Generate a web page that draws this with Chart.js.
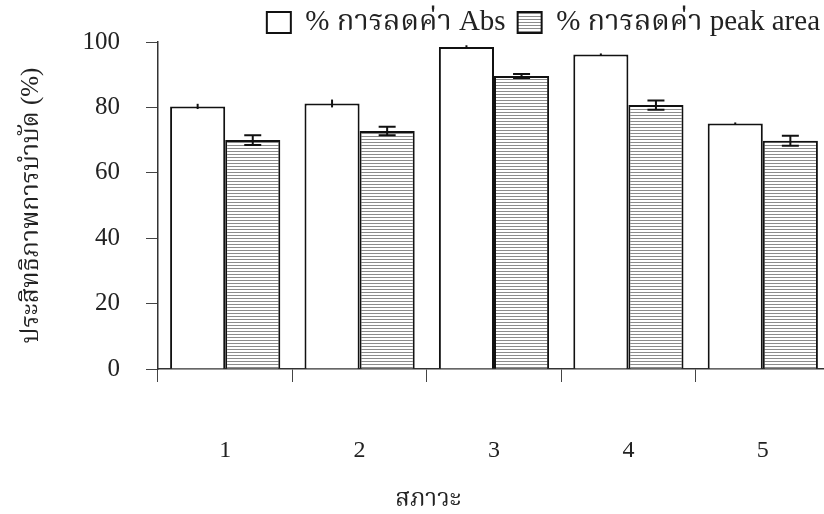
<!DOCTYPE html>
<html>
<head>
<meta charset="utf-8">
<script src="https://cdn.jsdelivr.net/npm/chart.js@4/dist/chart.umd.min.js"></script>
<style>
html,body{margin:0;padding:0;background:#fff;}
#wrap{width:824px;height:514px;position:relative;}
</style>
</head>
<body>
<div id="wrap"><canvas id="c" width="824" height="514"></canvas></div>
<script>
const categories = ['1', '2', '3', '4', '5'];
const absValues = [80.3, 81.2, 98.5, 96.2, 75.1];
const absErrors = [0.8, 1.2, 0.5, 0.3, 0.3];
const peakValues = [70.0, 72.8, 89.6, 80.7, 69.8];
const peakErrors = [1.5, 1.3, 0.6, 1.4, 1.5];
const yTicks = [0, 20, 40, 60, 80, 100];
const seriesNames = ['% การลดค่า Abs', '% การลดค่า peak area'];
const xTitle = 'สภาวะ';
const yTitle = 'ประสิทธิภาพการบำบัด (%)';

const FONT = "'Liberation Serif', 'Times New Roman', 'Noto Serif Thai', 'Noto Sans Thai', 'Norasi', 'Garuda', serif";

function hatch() {
  const p = document.createElement('canvas');
  p.width = 6; p.height = 3;
  const g = p.getContext('2d');
  g.fillStyle = '#ffffff';
  g.fillRect(0, 0, 6, 3);
  g.fillStyle = '#8c8c8c';
  g.fillRect(0, 1, 6, 1);
  return g.createPattern(p, 'repeat');
}
const hatchPattern = hatch();

const errorsByDataset = [absErrors, peakErrors];
const capWidths = [0, 17];

const errorBarPlugin = {
  id: 'errorBars',
  afterDatasetsDraw(chart) {
    const ctx = chart.ctx;
    const y = chart.scales.y;
    chart.data.datasets.forEach((ds, di) => {
      const meta = chart.getDatasetMeta(di);
      const errs = errorsByDataset[di];
      meta.data.forEach((bar, i) => {
        const v = ds.data[i];
        const e = errs[i];
        const yTop = y.getPixelForValue(v + e);
        const yBot = y.getPixelForValue(v - e);
        const x = bar.x;
        const cw = capWidths[di] / 2;
        ctx.save();
        ctx.strokeStyle = '#111';
        ctx.lineWidth = 2;
        ctx.beginPath();
        ctx.moveTo(x, yTop); ctx.lineTo(x, yBot);
        if (cw > 0) {
          ctx.moveTo(x - cw, yTop); ctx.lineTo(x + cw, yTop);
          ctx.moveTo(x - cw, yBot); ctx.lineTo(x + cw, yBot);
        }
        ctx.stroke();
        ctx.restore();
      });
    });
  }
};

// Layout nudges so the legend overlaps the top of the plot as in the reference,
// and the category axis runs to the right edge of the picture.
const layoutPlugin = {
  id: 'layoutTweaks',
  afterLayout(chart) {
    const ca = chart.chartArea;
    const lg = chart.legend;
    if (lg) {
      const h = lg.bottom - lg.top;
      lg.top = -4;
      lg.bottom = lg.top + h;
      lg.left += 8;
      lg.right += 8;
    }
    const ys = chart.scales.y;
    ys.top = 42;
    ys.height = ys.bottom - ys.top;
    ca.top = 42;
    ca.height = ca.bottom - ca.top;
    ys.configure();
    ys._gridLineItems = null;
    ys._labelItems = null;

    const xs = chart.scales.x;
    xs.right = 830;
    xs.width = xs.right - xs.left;
    ca.right = 830;
    ca.width = ca.right - ca.left;
    xs.configure();
    xs._gridLineItems = null;
    xs._labelItems = null;
  },
  afterDraw(chart) {
    const ctx = chart.ctx;
    const ca = chart.chartArea;
    ctx.save();
    ctx.fillStyle = '#222';
    ctx.font = "24px " + FONT;
    ctx.textAlign = 'center';
    ctx.textBaseline = 'middle';
    ctx.fillText(xTitle, ca.left + (ca.right - ca.left) * 0.402, 500);
    ctx.restore();
  }
};

new Chart(document.getElementById('c'), {
  type: 'bar',
  data: {
    labels: categories,
    datasets: [
      {
        label: seriesNames[0],
        data: absValues,
        backgroundColor: '#ffffff',
        borderColor: '#111',
        borderWidth: 2,
        categoryPercentage: 0.82,
        barPercentage: 1.0
      },
      {
        label: seriesNames[1],
        data: peakValues,
        backgroundColor: hatchPattern,
        borderColor: '#111',
        borderWidth: 2,
        categoryPercentage: 0.82,
        barPercentage: 1.0
      }
    ]
  },
  options: {
    responsive: false,
    animation: false,
    devicePixelRatio: 1,
    layout: { padding: 0 },
    plugins: {
      tooltip: { enabled: false },
      legend: {
        position: 'top',
        align: 'end',
        labels: {
          boxWidth: 24,
          boxHeight: 21,
          padding: 12,
          color: '#222',
          font: { family: FONT, size: 29 }
        }
      }
    },
    scales: {
      x: {
        offset: true,
        afterFit(scale) { scale.height = 145; },
        grid: {
          offset: true,
          drawOnChartArea: false,
          drawTicks: true,
          tickLength: 13,
          color: '#444',
          lineWidth: 1
        },
        border: { display: true, color: '#333', width: 1.5 },
        ticks: {
          color: '#222',
          padding: 54,
          font: { family: FONT, size: 24 }
        },
        title: { display: false }
      },
      y: {
        min: 0,
        max: 100,
        afterFit(scale) { scale.width = 158; },
        afterBuildTicks(scale) {
          scale.ticks = yTicks.map(v => ({ value: v }));
        },
        grid: {
          drawOnChartArea: false,
          drawTicks: true,
          tickLength: 12,
          color: '#444',
          lineWidth: 1
        },
        border: { display: true, color: '#333', width: 1.5 },
        ticks: {
          color: '#222',
          padding: 26,
          font: { family: FONT, size: 25 }
        },
        title: {
          display: true,
          text: yTitle,
          color: '#222',
          font: { family: FONT, size: 25 },
          padding: { top: 16, bottom: 8 }
        }
      }
    }
  },
  plugins: [errorBarPlugin, layoutPlugin]
});
</script>
</body>
</html>
